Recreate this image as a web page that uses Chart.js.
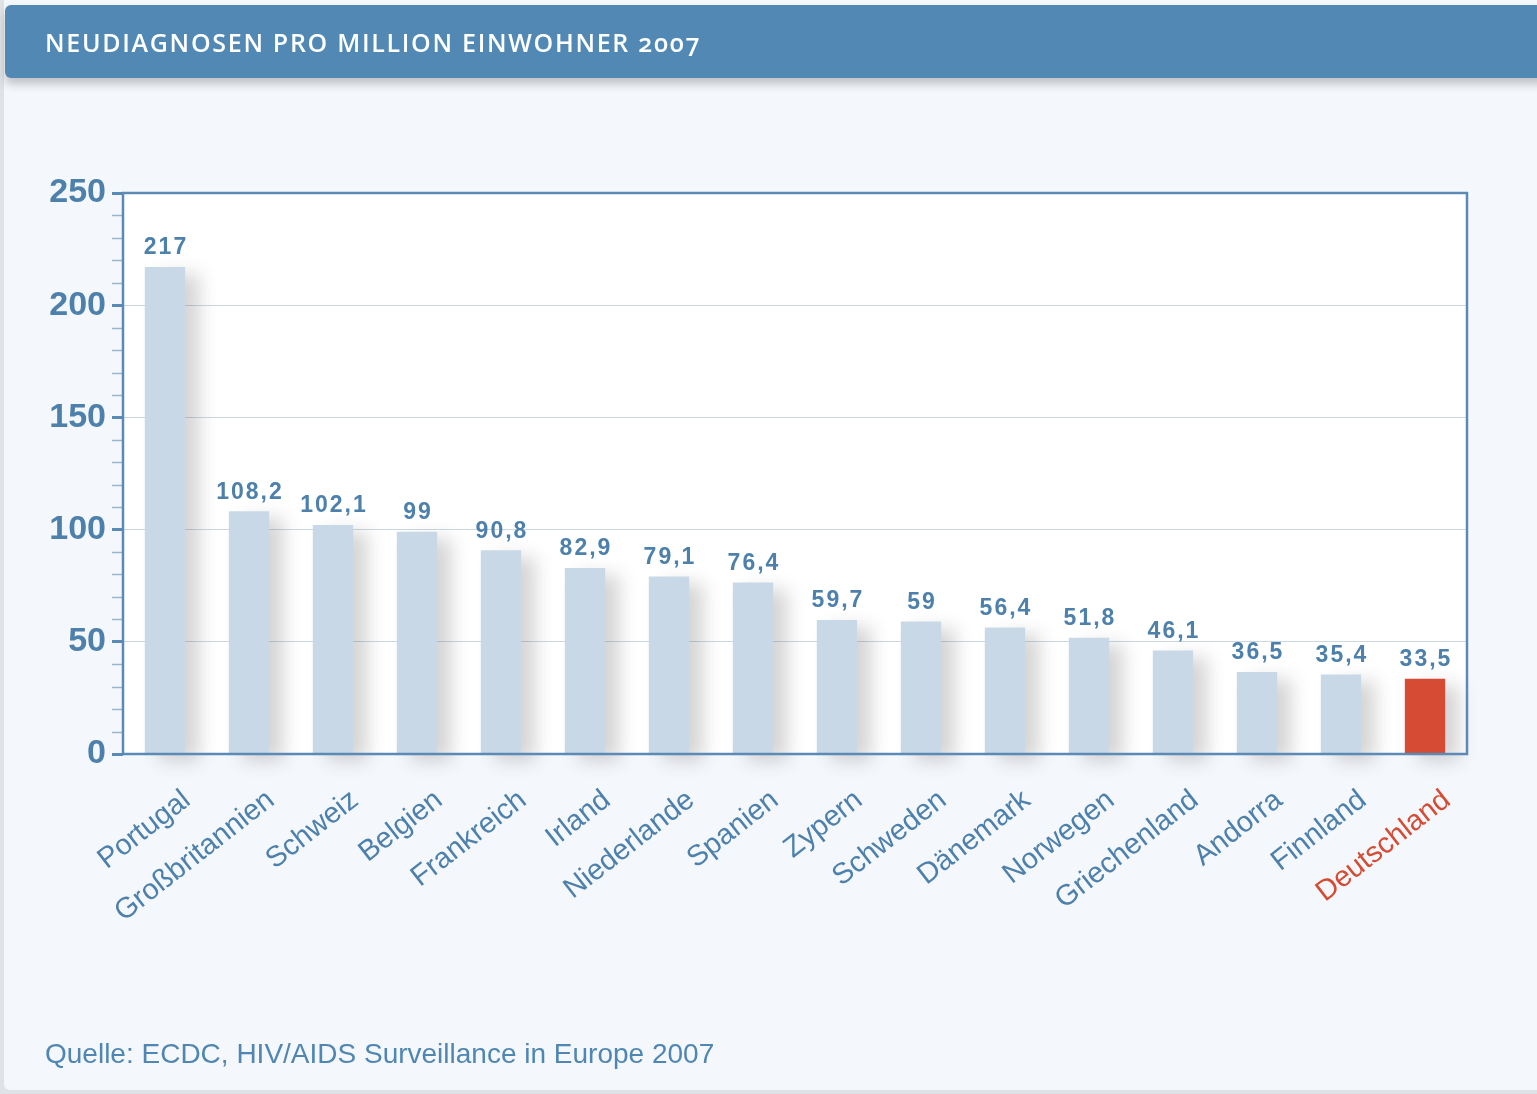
<!DOCTYPE html>
<html lang="de">
<head>
<meta charset="utf-8">
<title>Neudiagnosen pro Million Einwohner 2007</title>
<script src="https://cdn.jsdelivr.net/npm/chart.js@4.4.1/dist/chart.umd.min.js"></script>
<style>
  html, body { margin: 0; padding: 0; }
  body { width: 1537px; height: 1094px; background: #dfe3e8; position: relative; overflow: hidden; }
  #panel { position: absolute; left: 4px; top: 0; right: 0; bottom: 4px; background: #f4f7fb; border-radius: 0 0 0 6px; }
  #kopf {
    position: absolute; left: 5px; top: 5px; right: -10px; height: 73px;
    background: #5189b4; border-radius: 6px;
    box-shadow: 0 6px 10px rgba(0, 0, 0, 0.22);
    z-index: 2;
  }
  #kopf h1 {
    margin: 0; position: absolute; left: 40px; top: 20px;
    font: 600 25px "Open Sans", sans-serif; letter-spacing: 1.7px;
    font-feature-settings: "onum"; color: #fff;
  }
  #quelle {
    position: absolute; left: 45px; top: 1038px;
    font: 28px "Liberation Sans", Arial, sans-serif; color: #5086b2;
  }
  canvas { position: absolute; left: 0; top: 0; }
</style>
</head>
<body>
<div id="panel"></div>
<div id="kopf"><h1>NEUDIAGNOSEN PRO MILLION EINWOHNER 2007</h1></div>
<canvas id="diagramm" width="1537" height="1094"></canvas>
<div id="quelle">Quelle: ECDC, HIV/AIDS Surveillance in Europe 2007</div>
<script>
// Länder und Neudiagnosen pro Million Einwohner
const laender = ['Portugal', 'Großbritannien', 'Schweiz', 'Belgien', 'Frankreich', 'Irland',
  'Niederlande', 'Spanien', 'Zypern', 'Schweden', 'Dänemark', 'Norwegen',
  'Griechenland', 'Andorra', 'Finnland', 'Deutschland'];
const werte = [217, 108.2, 102.1, 99, 90.8, 82.9, 79.1, 76.4, 59.7, 59, 56.4, 51.8, 46.1, 36.5, 35.4, 33.5];
const yTicks = [0, 50, 100, 150, 200, 250];
const hervorgehoben = 'Deutschland';

const BLAU = '#4d80ab';
const RAHMEN = '#5a8ab5';
const BALKEN = '#c9d8e6';
const ROT = '#d54b34';

const fmt = v => String(v).replace('.', ',');

// weißer Hintergrund der Zeichenfläche
const flaeche = {
  id: 'flaeche',
  beforeDraw(chart) {
    const { ctx, chartArea: a } = chart;
    ctx.save();
    ctx.fillStyle = '#ffffff';
    ctx.fillRect(a.left, a.top, a.right - a.left, a.bottom - a.top);
    ctx.restore();
  }
};

// weicher Schatten rechts neben den Balken
const schatten = {
  id: 'schatten',
  beforeDatasetsDraw(chart) {
    const ctx = chart.ctx;
    ctx.save();
    ctx.shadowColor = 'rgba(70, 60, 60, 0.22)';
    ctx.shadowBlur = 18;
    ctx.shadowOffsetX = 14;
    ctx.shadowOffsetY = 7;
  },
  afterDatasetsDraw(chart) {
    chart.ctx.restore();
  }
};

// Rahmen, Zwischenstriche an der y-Achse und Werte über den Balken
const beschriftung = {
  id: 'beschriftung',
  afterDatasetsDraw(chart) {
    const { ctx, chartArea: a, scales } = chart;
    const y = scales.y;
    ctx.save();
    ctx.strokeStyle = '#9db6cc';
    ctx.lineWidth = 1.5;
    for (let v = 10; v < 250; v += 10) {
      if (v % 50 === 0) continue;
      const py = Math.round(y.getPixelForValue(v)) + 0.5;
      ctx.beginPath();
      ctx.moveTo(a.left - 11, py);
      ctx.lineTo(a.left - 1, py);
      ctx.stroke();
    }
    ctx.strokeStyle = RAHMEN;
    ctx.lineWidth = 2.5;
    ctx.strokeRect(a.left, a.top, a.right - a.left, a.bottom - a.top);

    ctx.fillStyle = BLAU;
    ctx.font = 'bold 23px "Liberation Sans", Arial, sans-serif';
    ctx.letterSpacing = '2px';
    ctx.textAlign = 'left';
    ctx.textBaseline = 'middle';
    chart.getDatasetMeta(0).data.forEach((bar, i) => {
      const txt = fmt(werte[i]);
      const w = ctx.measureText(txt).width - 2;
      ctx.fillText(txt, bar.x - w / 2, bar.y - 19);
    });
    ctx.restore();
  }
};

new Chart(document.getElementById('diagramm'), {
  type: 'bar',
  data: {
    labels: laender,
    datasets: [{
      data: werte,
      backgroundColor: laender.map(l => l === hervorgehoben ? ROT : BALKEN),
      borderWidth: 0,
      barPercentage: 0.48,
      categoryPercentage: 1,
      clip: false
    }]
  },
  options: {
    responsive: false,
    devicePixelRatio: 1,
    animation: false,
    layout: { padding: { top: 193, right: 70, left: 0, bottom: 0 } },
    plugins: { legend: { display: false }, tooltip: { enabled: false } },
    scales: {
      x: {
        grid: { display: false },
        border: { display: false },
        afterFit(scale) { scale.height = 340; },
        ticks: {
          autoSkip: false,
          minRotation: 38,
          maxRotation: 38,
          padding: 21,
          labelOffset: 22,
          color: ctx => laender[ctx.index] === hervorgehoben ? ROT : BLAU,
          font: { family: '"Liberation Sans", Arial, sans-serif', size: 29 }
        }
      },
      y: {
        min: 0,
        max: 250,
        afterFit(scale) { scale.width = 123; },
        afterBuildTicks(scale) { scale.ticks = yTicks.map(v => ({ value: v })); },
        border: { display: false },
        grid: {
          color: c => (c.tick && (c.tick.value === 0 || c.tick.value === 250)) ? 'rgba(0,0,0,0)' : '#cad8e4',
          lineWidth: 1,
          tickColor: RAHMEN,
          tickWidth: 3,
          tickLength: 11
        },
        ticks: {
          padding: 6,
          color: BLAU,
          font: { family: '"Liberation Sans", Arial, sans-serif', size: 34, weight: 'bold' }
        }
      }
    }
  },
  plugins: [flaeche, schatten, beschriftung]
});
</script>
</body>
</html>
